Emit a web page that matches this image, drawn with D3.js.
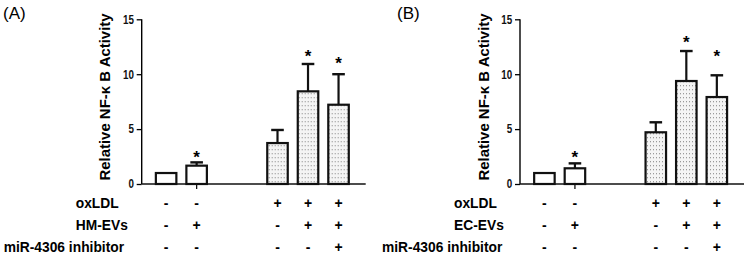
<!DOCTYPE html>
<html>
<head>
<meta charset="utf-8">
<script src="https://cdn.jsdelivr.net/npm/d3@7"></script>
<style>
  body { margin: 0; background: #fff; }
  text { font-family: "Liberation Sans", Arial, sans-serif; }
</style>
</head>
<body>
<svg width="748" height="255"></svg>
<script>
// bar slots along the x axis (gap between the two groups)
const slots = [0, 1, 3.65, 4.65, 5.65];
const rowNames = ["oxLDL", null, "miR-4306 inhibitor"];
const evNames = ["HM-EVs", "EC-EVs"];
const oxLDL = ["-", "-", "+", "+", "+"];
const evs = ["-", "+", "-", "+", "+"];
const inhibitor = ["-", "-", "-", "-", "+"];
const dotted = [false, false, true, true, true];
const yTicks = [0, 5, 10, 15];

const meansA = [1.0, 1.67, 3.73, 8.44, 7.22];
const errA = [0, 1.97, 4.92, 10.93, 10.0];
const starA = [null, 2.8, null, 12.05, 11.38];
const meansB = [1.0, 1.43, 4.71, 9.38, 7.92];
const errB = [0, 1.88, 5.62, 12.11, 9.9];
const starB = [null, 2.8, null, 13.33, 12.05];

const panels = [
  { tag: "(A)", tagX: 3, ox: 141.7, means: meansA, err: errA, star: starA, ev: evNames[0] },
  { tag: "(B)", tagX: 397, ox: 520, means: meansB, err: errB, star: starB, ev: evNames[1] }
];

const svg = d3.select("svg");
const defs = svg.append("defs");
const pat = defs.append("pattern")
  .attr("id", "dots")
  .attr("patternUnits", "userSpaceOnUse")
  .attr("width", 3).attr("height", 4);
pat.append("rect").attr("width", 3).attr("height", 4).attr("fill", "#f4f4f4");
pat.append("rect").attr("x", 1).attr("y", 1).attr("width", 1).attr("height", 1.3).attr("fill", "#9a9a9a");

const W = 224, yTop = 19.3, yBot = 184;
const x = d3.scaleLinear().domain([-0.8, 6.54]).range([0, W]);
const y = d3.scaleLinear().domain([0, 15]).range([yBot, yTop]);
const bw = 20.5;
const sx = 0.92; // the figure's font is a little narrow

panels.forEach(p => {
  svg.append("text")
    .attr("x", p.tagX).attr("y", 19)
    .attr("font-size", 17)
    .text(p.tag);

  const g = svg.append("g").attr("transform", `translate(${p.ox},0)`);

  // y axis
  const ax = g.append("g")
    .call(d3.axisLeft(y).tickValues(yTicks).tickSize(5).tickPadding(4.4));
  ax.select(".domain").attr("stroke-width", 1.4).attr("d", `M0,${yTop}V${yBot}`);
  ax.selectAll(".tick line").attr("stroke-width", 1.3);
  ax.selectAll(".tick text")
    .attr("font-family", "Liberation Sans, Arial, sans-serif")
    .attr("font-size", 12).attr("font-weight", "bold").attr("fill", "#111")
    .attr("transform", "scale(0.82,1)");

  g.append("text")
    .attr("transform", `translate(-31.5,97) rotate(-90) scale(0.965,1)`)
    .attr("text-anchor", "middle")
    .attr("font-size", 15.5).attr("font-weight", "bold")
    .text("Relative NF-κ B Activity");

  // error bars and stars
  slots.forEach((s, i) => {
    if (p.err[i] > p.means[i]) {
      g.append("line")
        .attr("x1", x(s)).attr("x2", x(s))
        .attr("y1", y(p.means[i])).attr("y2", y(p.err[i]))
        .attr("stroke", "#111").attr("stroke-width", 2.2);
      g.append("line")
        .attr("x1", x(s) - 6.3).attr("x2", x(s) + 6.3)
        .attr("y1", y(p.err[i])).attr("y2", y(p.err[i]))
        .attr("stroke", "#111").attr("stroke-width", 2.4);
    }
    if (p.star[i] != null) {
      g.append("text")
        .attr("x", x(s)).attr("y", y(p.star[i]) + 10)
        .attr("text-anchor", "middle")
        .attr("font-size", 17).attr("font-weight", "bold")
        .text("*");
    }
  });

  // bars
  g.selectAll("rect.bar")
    .data(slots)
    .enter().append("rect")
    .attr("class", "bar")
    .attr("x", d => x(d) - bw / 2)
    .attr("width", bw)
    .attr("y", (d, i) => y(p.means[i]))
    .attr("height", (d, i) => yBot - y(p.means[i]))
    .attr("fill", (d, i) => dotted[i] ? "url(#dots)" : "#fff")
    .attr("stroke", "#111").attr("stroke-width", 2.2);

  // x axis baseline
  g.append("line")
    .attr("x1", 0).attr("x2", W)
    .attr("y1", yBot).attr("y2", yBot)
    .attr("stroke", "#111").attr("stroke-width", 1.4);
  g.append("line")
    .attr("x1", x(slots[1])).attr("x2", x(slots[1]))
    .attr("y1", yBot).attr("y2", yBot + 5)
    .attr("stroke", "#111").attr("stroke-width", 1.3);

  // condition table
  const rows = [oxLDL, evs, inhibitor];
  const rowY = [202.5, 224.5, 247];
  const rowX = [-66, -66, -138];
  rows.forEach((vals, r) => {
    g.append("text")
      .attr("transform", `translate(${rowX[r]},${rowY[r]}) scale(${sx},1)`)
      .attr("dy", "0.36em")
      .attr("font-size", 15).attr("font-weight", "bold")
      .text(rowNames[r] || p.ev);
    vals.forEach((v, i) => {
      g.append("text")
        .attr("x", x(slots[i])).attr("y", rowY[r])
        .attr("dy", "0.36em")
        .attr("text-anchor", "middle")
        .attr("font-size", 14).attr("font-weight", "bold")
        .text(v);
    });
  });
});
</script>
</body>
</html>
